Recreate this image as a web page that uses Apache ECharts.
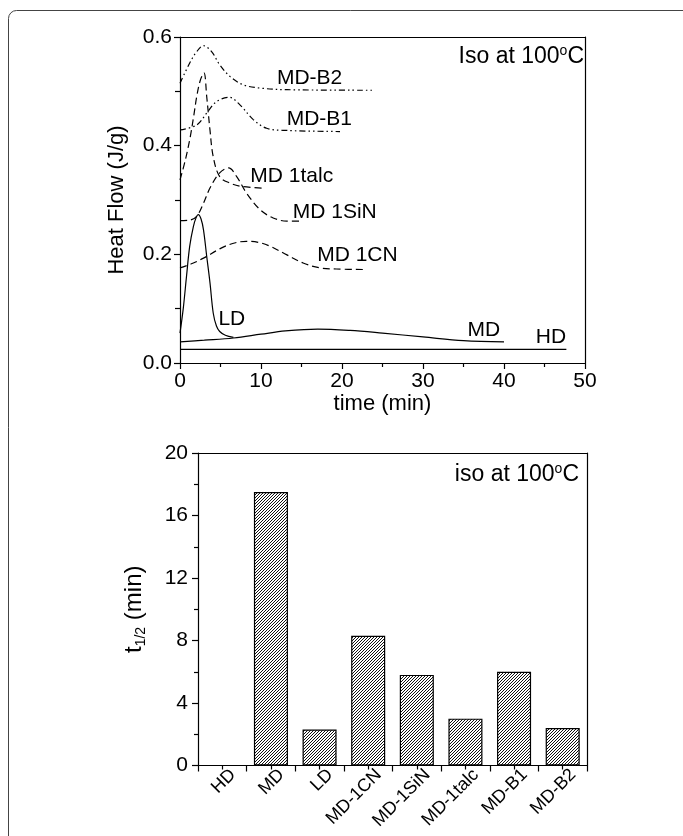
<!DOCTYPE html>
<html>
<head>
<meta charset="utf-8">
<script src="https://cdn.jsdelivr.net/npm/echarts@6/dist/echarts.min.js"></script>
<style>
  html, body { margin: 0; padding: 0; background: #fff; }
  #main { width: 683px; height: 836px; }
</style>
</head>
<body>
<div id="main"></div>
<script>
// top panel: isothermal heat flow curves (time in min, heat flow in J/g)
var hdT = [0, 47.7];
var hdV = [0.025, 0.025];
var mdT = [0, 3, 6.6, 10, 13, 17, 21, 25, 30, 35, 40];
var mdV = [0.039, 0.042, 0.046, 0.053, 0.059, 0.0625, 0.060, 0.055, 0.048, 0.041, 0.039];
var ldT = [0, 0.4, 0.8, 1.2, 1.65, 2.0, 2.26, 2.6, 2.9, 3.3, 3.7, 4.1, 4.5, 4.9, 5.6, 6.6];
var ldV = [0.055, 0.100, 0.159, 0.215, 0.251, 0.268, 0.273, 0.265, 0.245, 0.196, 0.148, 0.092, 0.068, 0.058, 0.051, 0.047];
var cnT = [0, 1.5, 2.9, 4.9, 6.5, 8.2, 9.7, 11.1, 13.2, 15.2, 17.3, 19.3, 23];
var cnV = [0.175, 0.183, 0.193, 0.210, 0.220, 0.224, 0.222, 0.215, 0.199, 0.184, 0.175, 0.173, 0.172];
var sinT = [0, 1.2, 2.06, 2.9, 3.7, 4.9, 6.0, 7.0, 8.2, 9.9, 11.5, 13.2, 15];
var sinV = [0.262, 0.263, 0.270, 0.294, 0.322, 0.350, 0.359, 0.343, 0.313, 0.282, 0.267, 0.261, 0.261];
var talcT = [0, 0.6, 1.2, 1.7, 2.06, 2.5, 2.96, 3.3, 3.7, 4.1, 4.9, 6.2, 7.6, 10.1];
var talcV = [0.337, 0.370, 0.411, 0.455, 0.490, 0.520, 0.534, 0.490, 0.429, 0.380, 0.343, 0.331, 0.325, 0.322];
var b1T = [0, 2.06, 3.3, 4.5, 6.1, 7.4, 9.05, 10.7, 13.2, 19.75];
var b1V = [0.429, 0.438, 0.460, 0.481, 0.489, 0.475, 0.448, 0.432, 0.428, 0.426];
var b2T = [0, 1.2, 2.06, 2.9, 3.9, 4.9, 6.2, 7.8, 9.9, 13.2, 23.7];
var b2V = [0.515, 0.552, 0.573, 0.584, 0.573, 0.549, 0.527, 0.512, 0.506, 0.503, 0.502];

// curve labels (anchor in data coords)
var curveLabels = ['MD-B2', 'MD-B1', 'MD 1talc', 'MD 1SiN', 'MD 1CN', 'LD', 'MD', 'HD'];
var labelT = [16.0, 17.2, 13.8, 19.1, 21.9, 6.4, 37.5, 45.8];
var labelV = [0.525, 0.448, 0.343, 0.278, 0.199, 0.080, 0.061, 0.048];

// bottom panel: half-time of crystallisation
var samples = ['HD', 'MD', 'LD', 'MD-1CN', 'MD-1SiN', 'MD-1talc', 'MD-B1', 'MD-B2'];
var halfTime = [0, 17.5, 2.3, 8.3, 5.8, 3.0, 6.0, 2.4];

function pairs(t, v) {
  var out = [];
  for (var i = 0; i < t.length; i++) out.push([t[i], v[i]]);
  return out;
}

// hatch fill for bars
var hatch = document.createElement('canvas');
hatch.width = 3; hatch.height = 3;
var hc = hatch.getContext('2d');
hc.fillStyle = '#fff';
hc.fillRect(0, 0, 3, 3);
hc.strokeStyle = '#111';
hc.lineWidth = 1;
hc.beginPath();
hc.moveTo(0, 3); hc.lineTo(3, 0);
hc.moveTo(-1, 1); hc.lineTo(1, -1);
hc.moveTo(2, 4); hc.lineTo(4, 2);
hc.stroke();

var font = "'Liberation Sans', Arial, sans-serif";
var dashed = [7, 4];
var dashDotDot = [6, 3, 1.5, 3, 1.5, 3];

var chart = echarts.init(document.getElementById('main'));

function curve(t, v, type) {
  return {
    type: 'line', xAxisIndex: 0, yAxisIndex: 0,
    data: pairs(t, v), smooth: 0.35, symbol: 'none',
    lineStyle: { color: '#000', width: 1.2, type: type },
    silent: true, animation: false
  };
}

var lineStyle = { color: '#000', width: 1.2 };
var axisLine = { show: true, onZero: false, lineStyle: lineStyle };
var noTick = { show: false };
var supRich = {
  n: { fontSize: 23, fontFamily: font, color: '#000', lineHeight: 26, verticalAlign: 'middle' },
  s: { fontSize: 14, fontFamily: font, color: '#000', lineHeight: 14, verticalAlign: 'top' }
};

option = {
  backgroundColor: '#fff',
  animation: false,
  textStyle: { fontFamily: font, color: '#000' },
  graphic: [
    { id: 'frame', type: 'rect', z: -10, shape: { x: 8.5, y: 10.5, width: 720, height: 900, r: 8 },
      style: { fill: 'none', stroke: '#444', lineWidth: 1 } },
    { id: 'iso1', type: 'text', x: 584, y: 57, z: 10,
      style: { text: '{n|Iso at 100}{s|o}{n|C}', align: 'right', verticalAlign: 'middle', rich: supRich } },
    { id: 'iso2', type: 'text', x: 579, y: 475, z: 10,
      style: { text: '{n|iso at 100}{s|o}{n|C}', align: 'right', verticalAlign: 'middle', rich: supRich } }
  ],
  grid: [
    { left: 180, top: 37, width: 405, height: 326 },
    { left: 198, top: 453, width: 389, height: 312.5 }
  ],
  xAxis: [
    { type: 'value', gridIndex: 0, min: 0, max: 50, interval: 10,
      name: 'time (min)', nameLocation: 'middle', nameGap: 25,
      nameTextStyle: { fontSize: 22, color: '#000', fontFamily: font },
      axisLine: axisLine,
      axisTick: { show: true, length: 6, lineStyle: lineStyle },
      minorTick: { show: true, splitNumber: 2, length: 4, lineStyle: lineStyle },
      axisLabel: { fontSize: 21, color: '#000', margin: 8, fontFamily: font },
      splitLine: { show: false } },
    { type: 'value', gridIndex: 0, position: 'top', min: 0, max: 50,
      axisLine: axisLine, axisTick: noTick, axisLabel: { show: false }, splitLine: { show: false } },
    { type: 'category', gridIndex: 1, data: samples, position: 'bottom',
      axisLine: axisLine,
      axisTick: { show: true, length: 6, interval: 0, lineStyle: lineStyle },
      axisLabel: { show: false },
      splitLine: { show: false } },
    { type: 'category', gridIndex: 1, data: samples, position: 'bottom',
      axisLine: { show: false, onZero: false },
      axisTick: { show: true, length: 4, interval: 0, alignWithLabel: true, lineStyle: lineStyle },
      axisLabel: { show: false }, splitLine: { show: false } },
    { type: 'category', gridIndex: 1, data: samples, position: 'top',
      axisLine: axisLine, axisTick: noTick, axisLabel: { show: false }, splitLine: { show: false } }
  ],
  yAxis: [
    { type: 'value', gridIndex: 0, min: 0, max: 0.6, interval: 0.2, position: 'left',
      name: 'Heat Flow (J/g)', nameLocation: 'middle', nameGap: 52,
      nameTextStyle: { fontSize: 22, color: '#000', fontFamily: font },
      axisLine: axisLine,
      axisTick: { show: true, length: 6, lineStyle: lineStyle },
      minorTick: { show: true, splitNumber: 2, length: 5, lineStyle: lineStyle },
      axisLabel: { fontSize: 21, color: '#000', margin: 8, fontFamily: font,
        formatter: function (v) { return v.toFixed(1); } },
      splitLine: { show: false } },
    { type: 'value', gridIndex: 0, position: 'right', min: 0, max: 0.6,
      axisLine: axisLine, axisTick: noTick, axisLabel: { show: false }, splitLine: { show: false } },
    { type: 'value', gridIndex: 1, min: 0, max: 20, interval: 4, position: 'left',
      name: '{a|t}{b|1/2}{a| (min)}', nameLocation: 'middle', nameGap: 50,
      nameTextStyle: { color: '#000', fontFamily: font,
        rich: { a: { fontSize: 24, fontFamily: font, color: '#000', lineHeight: 28, verticalAlign: 'middle' },
                b: { fontSize: 14, fontFamily: font, color: '#000', lineHeight: 14, verticalAlign: 'bottom' } } },
      axisLine: axisLine,
      axisTick: { show: true, length: 6, lineStyle: lineStyle },
      minorTick: { show: true, splitNumber: 2, length: 4, lineStyle: lineStyle },
      axisLabel: { fontSize: 21, color: '#000', margin: 10, fontFamily: font },
      splitLine: { show: false } },
    { type: 'value', gridIndex: 1, position: 'right', min: 0, max: 20,
      axisLine: axisLine, axisTick: noTick, axisLabel: { show: false }, splitLine: { show: false } }
  ],
  series: [
    curve(hdT, hdV, 'solid'),
    curve(mdT, mdV, 'solid'),
    curve(ldT, ldV, 'solid'),
    curve(cnT, cnV, dashed),
    curve(sinT, sinV, dashed),
    curve(talcT, talcV, dashed),
    curve(b1T, b1V, dashDotDot),
    curve(b2T, b2V, dashDotDot),
    { type: 'bar', xAxisIndex: 2, yAxisIndex: 2, data: halfTime, barWidth: '70%',
      itemStyle: { color: { image: hatch, repeat: 'repeat' }, borderColor: '#000', borderWidth: 1.2 },
      silent: true }
  ]
};

chart.setOption(option);

var extra = [];
// curve names placed through the top grid's scales
for (var i = 0; i < curveLabels.length; i++) {
  var p = chart.convertToPixel({ xAxisIndex: 0, yAxisIndex: 0 }, [labelT[i], labelV[i]]);
  extra.push({ id: 'lbl' + i, type: 'text', x: p[0], y: p[1], z: 10,
    style: { text: curveLabels[i], align: 'center', verticalAlign: 'middle',
      fontSize: 21, fontFamily: font, fill: '#000' } });
}
// slanted sample names under the bars, hung off each category centre
for (var j = 0; j < samples.length; j++) {
  var q = chart.convertToPixel({ xAxisIndex: 2, yAxisIndex: 2 }, [j, 0]);
  extra.push({ id: 'cat' + j, type: 'text', x: q[0] + 10.5, y: q[1] + 6.5, rotation: Math.PI / 4, z: 10,
    style: { text: samples[j], align: 'right', verticalAlign: 'middle',
      fontSize: 18, fontFamily: font, fill: '#000' } });
}
chart.setOption({ graphic: extra });
</script>
</body>
</html>
